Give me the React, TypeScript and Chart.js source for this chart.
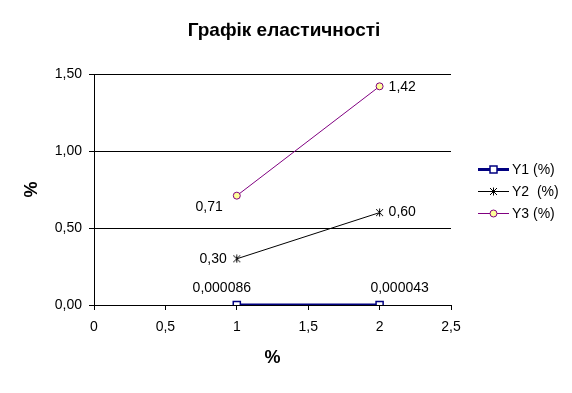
import React, { useEffect, useRef } from "react";
import { Chart, registerables } from "chart.js";
Chart.register(...registerables);

const titleText = "Графік еластичності";
const xTitle = "%";
const yTitle = "%";
const seriesNames = ["Y1 (%)", "Y2  (%)", "Y3 (%)"];
const xValues = [1, 2];
const y1Values = [0.000086, 0.000043];
const y2Values = [0.3, 0.6];
const y3Values = [0.71, 1.42];
const labelDecimals = [6, 2, 2];
const xTicks = { min: 0, max: 2.5, step: 0.5 };
const yTicks = { min: 0, max: 1.5, step: 0.5 };

const FONT = '"Liberation Sans", Arial, sans-serif';
const FS = 14;

// label placement (styling only)
const labelPlacement = [
  [{ dx: -15, dy: -17, align: "center" }, { dx: 20, dy: -17, align: "center" }],
  [{ dx: -10, dy: 0, align: "right" }, { dx: 9, dy: 0, align: "left" }],
  [{ dx: -14, dy: 11, align: "right" }, { dx: 9, dy: 1, align: "left" }],
];

function makeStar(): HTMLCanvasElement {
  const c = document.createElement("canvas");
  c.width = 9;
  c.height = 9;
  const g = c.getContext("2d")!;
  g.strokeStyle = "#000";
  g.lineWidth = 1;
  g.beginPath();
  g.moveTo(1, 1);
  g.lineTo(8, 8);
  g.moveTo(8, 1);
  g.lineTo(1, 8);
  g.moveTo(4.5, 0.5);
  g.lineTo(4.5, 8.5);
  g.stroke();
  return c;
}

function fmt(v: number, d: number) {
  return v.toFixed(d).replace(".", ",");
}

export default function App() {
  const ref = useRef<HTMLCanvasElement>(null);
  useEffect(() => {
    const star = makeStar();
    const series = [y1Values, y2Values, y3Values];
    const styles = [
      { borderColor: "#000080", borderWidth: 3, pointStyle: "rect", pointRadius: 5, pointBackgroundColor: "#ffffff", pointBorderColor: "#000080", pointBorderWidth: 1.5 },
      { borderColor: "#000000", borderWidth: 1, pointStyle: star, pointRadius: 4, pointBackgroundColor: "#000", pointBorderColor: "#000", pointBorderWidth: 1 },
      { borderColor: "#800080", borderWidth: 1, pointStyle: "circle", pointRadius: 3.5, pointBackgroundColor: "#FFFF99", pointBorderColor: "#800080", pointBorderWidth: 1 },
    ];
    const datasets = series.map((vals, i) => ({
      label: seriesNames[i],
      data: vals.map((v, j) => ({ x: xValues[j], y: v })),
      showLine: true,
      ...styles[i],
    }));

    const extras = {
      id: "extras",
      afterDatasetsDraw(chart: any) {
        const ctx = chart.ctx;
        ctx.save();
        // title
        ctx.fillStyle = "#000";
        ctx.textAlign = "center";
        ctx.textBaseline = "middle";
        ctx.font = `bold 19px ${FONT}`;
        ctx.fillText(titleText, 284, 31);

        ctx.font = `${FS}px ${FONT}`;
        chart.data.datasets.forEach((ds: any, i: number) => {
          const meta = chart.getDatasetMeta(i);
          meta.data.forEach((pt: any, j: number) => {
            const p = labelPlacement[i][j];
            ctx.textAlign = p.align;
            ctx.fillText(fmt(series[i][j], labelDecimals[i]), pt.x + p.dx, pt.y + p.dy);
          });
        });
        // legend
        const ly = [169, 191, 213];
        chart.data.datasets.forEach((ds: any, i: number) => {
          const y = ly[i];
          ctx.strokeStyle = ds.borderColor;
          ctx.lineWidth = ds.borderWidth;
          ctx.beginPath();
          ctx.moveTo(478, y + 0.5);
          ctx.lineTo(509, y + 0.5);
          ctx.stroke();
          const cx = 493.5, cy = y + 0.5;
          if (ds.pointStyle === "rect") {
            const s = 7;
            ctx.fillStyle = ds.pointBackgroundColor;
            ctx.fillRect(cx - s / 2, cy - s / 2, s, s);
            ctx.lineWidth = ds.pointBorderWidth;
            ctx.strokeStyle = ds.pointBorderColor;
            ctx.strokeRect(cx - s / 2, cy - s / 2, s, s);
          } else if (ds.pointStyle === "circle") {
            ctx.beginPath();
            ctx.arc(cx, cy, ds.pointRadius, 0, Math.PI * 2);
            ctx.fillStyle = ds.pointBackgroundColor;
            ctx.fill();
            ctx.lineWidth = ds.pointBorderWidth;
            ctx.strokeStyle = ds.pointBorderColor;
            ctx.stroke();
          } else {
            ctx.drawImage(ds.pointStyle, Math.round(cx - 4.5), Math.round(cy - 4.5));
          }
          ctx.fillStyle = "#000";
          ctx.textAlign = "left";
          ctx.fillText(ds.label, 512, y + 1);
        });
        ctx.restore();
      },
    };

    const chart = new Chart(ref.current!, {
      type: "scatter",
      data: { datasets: datasets as any },
      plugins: [extras],
      options: {
        animation: false,
        responsive: false,
        events: [],
        layout: { padding: { top: 74, right: 121, left: 0, bottom: 0 } },
        font: { family: FONT },
        plugins: {
          legend: { display: false },
          tooltip: { enabled: false },
          title: { display: false },
        },
        scales: {
          x: {
            type: "linear",
            min: xTicks.min,
            max: xTicks.max,
            afterFit: (s: any) => { s.height = 88; },
            ticks: {
              stepSize: xTicks.step,
              color: "#000",
              padding: 9,
              maxRotation: 0,
              font: { family: FONT, size: FS },
              callback: (v: any) => String(Math.round(Number(v) * 10) / 10).replace(".", ","),
            },
            grid: { drawOnChartArea: false, drawTicks: true, tickLength: 5, color: "#000" },
            border: { display: true, color: "#000", width: 1 },
            title: {
              display: true,
              text: xTitle,
              color: "#000",
              font: { family: FONT, size: 18, weight: "bold", lineHeight: 1.2 },
              padding: { top: 0, bottom: 24 },
            },
          },
          y: {
            type: "linear",
            min: yTicks.min,
            max: yTicks.max,
            afterFit: (s: any) => { s.width = 94; },
            ticks: {
              stepSize: yTicks.step,
              color: "#000",
              padding: 7,
              font: { family: FONT, size: FS },
              callback: (v: any) => Number(v).toFixed(2).replace(".", ","),
            },
            grid: { drawOnChartArea: true, drawTicks: true, tickLength: 5, color: "#000" },
            border: { display: true, color: "#000", width: 1 },
            title: {
              display: true,
              text: yTitle,
              color: "#000",
              font: { family: FONT, size: 18, weight: "bold", lineHeight: 1.2 },
              padding: { top: 21, bottom: 0 },
            },
          },
        },
      } as any,
    });
    return () => chart.destroy();
  }, []);
  return (
    <div style={{ position: "fixed", left: 0, top: 0, width: 572, height: 393, background: "#fff" }}>
      <canvas ref={ref} width={572} height={393} style={{ width: 572, height: 393 }} />
    </div>
  );
}
